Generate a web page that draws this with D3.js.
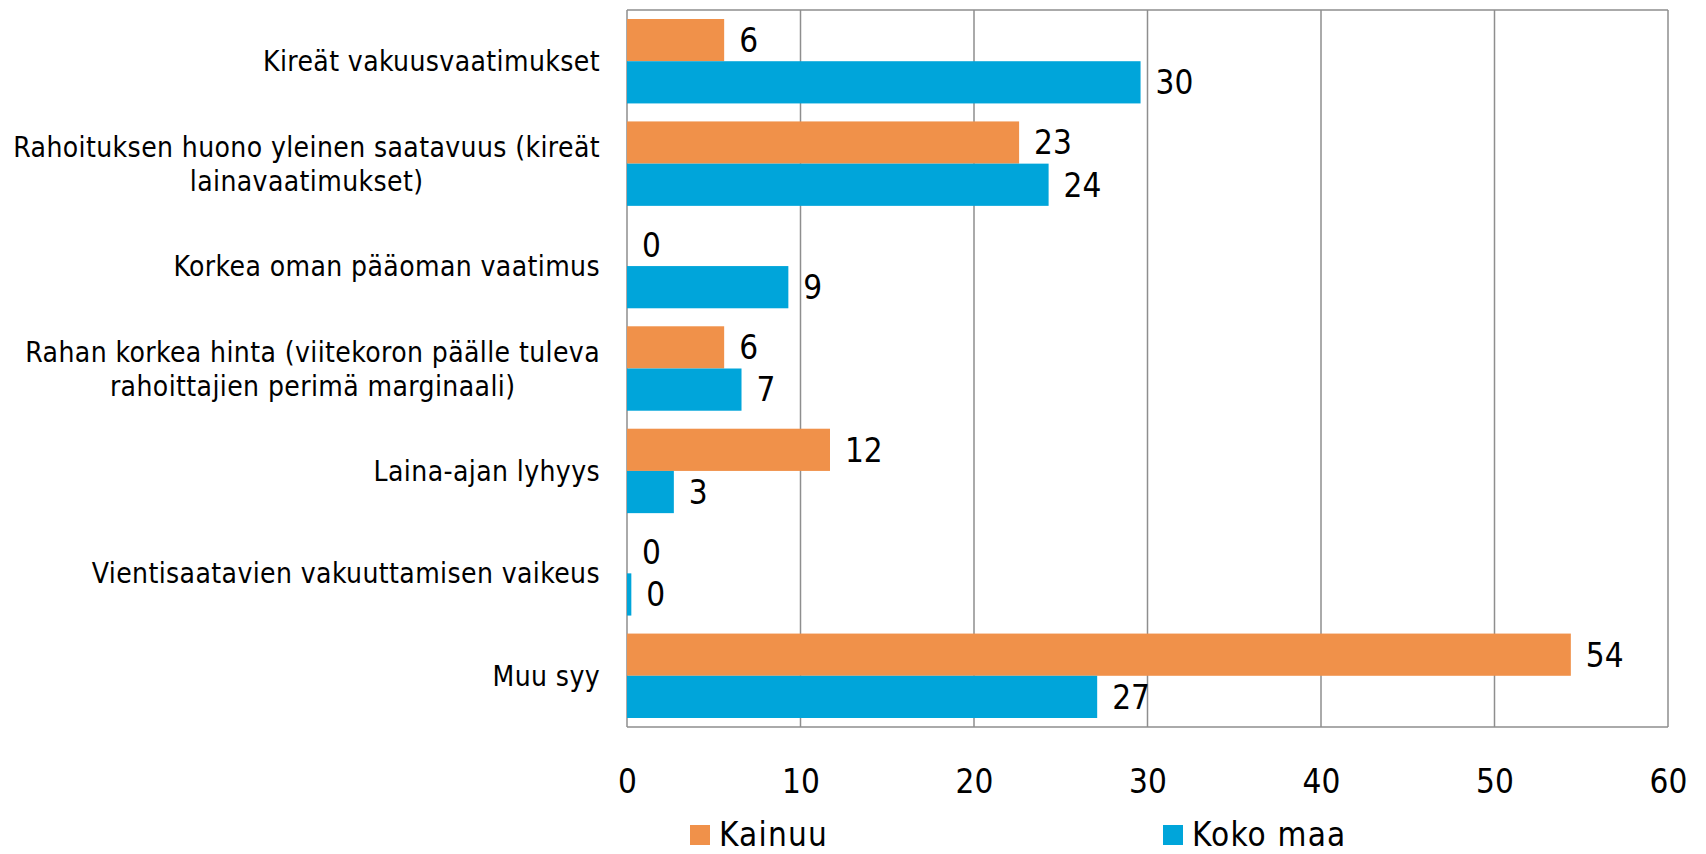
<!DOCTYPE html>
<html>
<head>
<meta charset="utf-8">
<script src="https://cdn.jsdelivr.net/npm/d3@7"></script>
<style>
  body { margin: 0; background: #fff; }
  text { font-family: "DejaVu Sans Condensed", "Liberation Sans Narrow", sans-serif; fill: #000; }
</style>
</head>
<body>
<svg id="chart" width="1706" height="854"></svg>
<script>
// categories (each one a list of lines)
var categories = [
  ["Kireät vakuusvaatimukset"],
  ["Rahoituksen huono yleinen saatavuus (kireät", "lainavaatimukset)"],
  ["Korkea oman pääoman vaatimus"],
  ["Rahan korkea hinta (viitekoron päälle tuleva", "rahoittajien perimä marginaali)"],
  ["Laina-ajan lyhyys"],
  ["Vientisaatavien vakuuttamisen vaikeus"],
  ["Muu syy"]
]
var seriesNames = ["Kainuu", "Koko maa"]
var kainuu = [5.6, 22.6, 0, 5.6, 11.7, 0, 54.4]
var kokoMaa = [29.6, 24.3, 9.3, 6.6, 2.7, 0.25, 27.1]
var xTicks = [0, 10, 20, 30, 40, 50, 60]

var colors = ["#F0914A", "#00A5DA"]

var svg = d3.select("#chart")
var pLeft = 627, pRight = 1668, pTop = 10, pBottom = 727

var x = d3.scaleLinear().domain([0, 60]).range([pLeft, pRight])
var y = d3.scaleBand().domain(d3.range(categories.length)).range([pTop, pBottom])
var pad = 9
var barH = (y.bandwidth() - 2 * pad) / 2

//gridlines
svg.append("g")
  .selectAll("line")
  .data(xTicks)
  .enter()
  .append("line")
  .attr("x1", function(d){ return x(d) })
  .attr("x2", function(d){ return x(d) })
  .attr("y1", pTop)
  .attr("y2", pBottom)
  .attr("stroke", "#8e8e8e")
  .attr("stroke-width", 1.5)

svg.append("line")
  .attr("x1", pLeft).attr("x2", pRight)
  .attr("y1", pTop).attr("y2", pTop)
  .attr("stroke", "#8e8e8e").attr("stroke-width", 1.5)
svg.append("line")
  .attr("x1", pLeft).attr("x2", pRight)
  .attr("y1", pBottom).attr("y2", pBottom)
  .attr("stroke", "#8e8e8e").attr("stroke-width", 1.5)

var series = [kainuu, kokoMaa]

series.forEach(function(vals, s){
  var g = svg.append("g")
  g.selectAll("rect")
    .data(vals)
    .enter()
    .append("rect")
    .attr("x", x(0))
    .attr("y", function(d, i){ return y(i) + pad + s * barH })
    .attr("width", function(d){ return x(d) - x(0) })
    .attr("height", barH)
    .attr("fill", colors[s])

  g.selectAll("text")
    .data(vals)
    .enter()
    .append("text")
    .attr("x", function(d){ return x(d) + 15 })
    .attr("y", function(d, i){ return y(i) + pad + s * barH + barH / 2 })
    .attr("dy", "0.36em")
    .style("font-size", "33px")
    .text(function(d){ return Math.round(d) })
})

// category labels
var labelRight = 600
categories.forEach(function(lines, i){
  var t = svg.append("text")
    .attr("y", y(i) + y.bandwidth() / 2)
    .style("font-size", "28px")
    .style("letter-spacing", "0.4px")
  // right aligned block, lines centered in it
  var widths = lines.map(function(l){
    t.text(l)
    return t.node().getComputedTextLength()
  })
  var w = d3.max(widths)
  t.text(null)
  var cx = labelRight - w / 2
  t.attr("text-anchor", "middle")
  lines.forEach(function(l, k){
    t.append("tspan")
      .attr("x", cx)
      .attr("y", y(i) + y.bandwidth() / 2 + (k - (lines.length - 1) / 2) * 34)
      .attr("dy", "0.36em")
      .text(l)
  })
})

// x axis
var xAxis = d3.axisBottom(x).tickValues(xTicks).tickSize(0).tickPadding(0)
var ax = svg.append("g")
  .attr("transform", "translate(0," + 781 + ")")
  .attr("font-family", null)
  .call(xAxis)
ax.select(".domain").remove()
ax.selectAll("text")
  .attr("dy", "0.36em")
  .attr("y", 0)
  .style("font-size", "33px")
  .attr("fill", "#000")

// legend
var legendX = [690, 1163]
var lg = svg.append("g")
  .selectAll("g")
  .data(seriesNames)
  .enter()
  .append("g")
  .attr("transform", function(d, i){ return "translate(" + legendX[i] + ",835)" })
lg.append("rect")
  .attr("x", 0).attr("y", -10)
  .attr("width", 20).attr("height", 20)
  .attr("fill", function(d, i){ return colors[i] })
lg.append("text")
  .attr("x", 29)
  .attr("dy", "0.34em")
  .style("font-size", "33px")
  .style("letter-spacing", "1.2px")
  .text(function(d){ return d })
</script>
</body>
</html>
